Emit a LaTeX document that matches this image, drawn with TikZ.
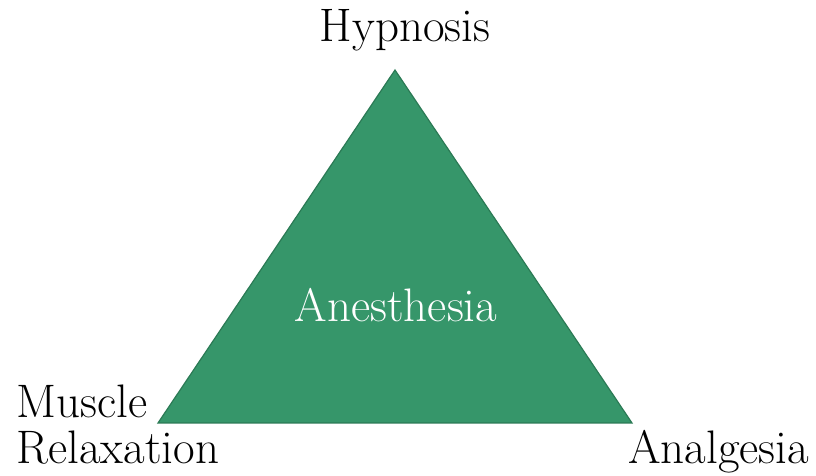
\documentclass[tikz,border=0pt]{standalone}
\usetikzlibrary{positioning}
\definecolor{triGreen}{HTML}{36966A}
\definecolor{triEdge}{HTML}{2B7A55}

\begin{document}
\begin{tikzpicture}[x=0.5pt,y=-0.5pt]

		\tikzset{Label/.style =
				{font=\fontsize{23.5}{23}\selectfont, inner sep=0pt}
		}

		\useasboundingbox (0,0) rectangle (816,476);

		%corners
		\coordinate (top) at (395,70);
		\coordinate (left) at (158,423);
		\coordinate (right) at (632,423);

		\filldraw[fill=triGreen, draw=triEdge, line width=0.6pt] (top) -- (left) -- (right) -- cycle;

		%labels
		\node[Label, anchor=base] (hypnosis) at (405,42) {Hypnosis};
		\node[Label, text=white] (anesthesia) at (396,305) {Anesthesia};
		\node[Label, anchor=base west, align=left] (muscle) at (16,464) {Muscle\\Relaxation};
		\node[Label, anchor=base west] (analgesia) at (628,464) {Analgesia};

	\end{tikzpicture}
\end{document}
